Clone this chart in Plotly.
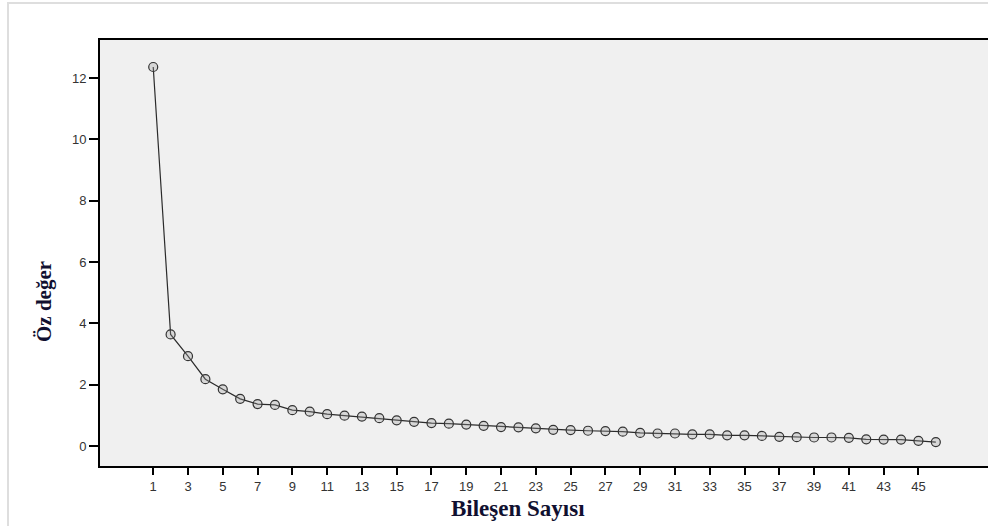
import plotly.graph_objects as go

components = list(range(1, 47))
eigenvalues = [12.36, 3.64, 2.93, 2.18, 1.85, 1.54, 1.37, 1.34, 1.17, 1.12,
               1.04, 0.99, 0.96, 0.91, 0.84, 0.79, 0.75, 0.73, 0.70, 0.66,
               0.62, 0.61, 0.58, 0.53, 0.52, 0.50, 0.49, 0.47, 0.43, 0.41,
               0.41, 0.38, 0.38, 0.35, 0.35, 0.33, 0.30, 0.29, 0.28, 0.28,
               0.27, 0.22, 0.21, 0.21, 0.17, 0.13]
x_ticks = list(range(1, 46, 2))
y_ticks = [0, 2, 4, 6, 8, 10, 12]

fig = go.Figure()
fig.add_trace(go.Scatter(
    x=components, y=eigenvalues, mode="lines+markers",
    line=dict(color="#2b2b2b", width=1.2),
    marker=dict(symbol="circle", size=9, color="rgba(160,160,160,0.3)",
                line=dict(color="#333333", width=1.2)),
    showlegend=False, hoverinfo="x+y",
))

tickfont = dict(family="Liberation Sans, Arial, sans-serif", size=13, color="#333333")
fig.update_layout(
    width=988, height=526,
    margin=dict(l=100, r=0, t=40, b=60),
    paper_bgcolor="white", plot_bgcolor="#f0f0f0",
    xaxis=dict(range=[-2.06, 49.0], tickvals=x_ticks, ticktext=[str(v) for v in x_ticks],
               showgrid=False, zeroline=False, showline=True, linecolor="black",
               linewidth=2, mirror=True, ticks="outside", ticklen=7, tickwidth=1.5,
               tickcolor="black", tickfont=tickfont),
    yaxis=dict(range=[-0.65, 13.24], tickvals=y_ticks, ticktext=[str(v) for v in y_ticks],
               showgrid=False, zeroline=False, showline=True, linecolor="black",
               linewidth=2, mirror=False, ticks="outside", ticklen=9, tickwidth=1.5,
               tickcolor="black", tickfont=tickfont),
    shapes=[dict(type="rect", xref="paper", yref="paper",
                 x0=-92/888, x1=1.05, y0=-60/426 - 0.2, y1=1 + 37/426,
                 line=dict(color="#dedede", width=2), fillcolor="rgba(0,0,0,0)",
                 layer="below")],
    annotations=[
        dict(text="<b>Bileşen Sayısı</b>", xref="paper", yref="paper",
             x=(518 - 100) / 888, y=-(508 - 466) / 426, xanchor="center", yanchor="middle",
             showarrow=False,
             font=dict(family="Liberation Serif, Times New Roman, serif", size=23, color="#101030")),
        dict(text="<b>Öz değer</b>", xref="paper", yref="paper",
             x=-(100 - 44) / 888, y=(466 - 302) / 426, xanchor="center", yanchor="middle",
             textangle=-90, showarrow=False,
             font=dict(family="Liberation Serif, Times New Roman, serif", size=21, color="#101030")),
    ],
)

fig.write_html("out.html", config={"displayModeBar": False},
               post_script="document.body.style.margin='0';document.body.style.overflow='hidden';")
